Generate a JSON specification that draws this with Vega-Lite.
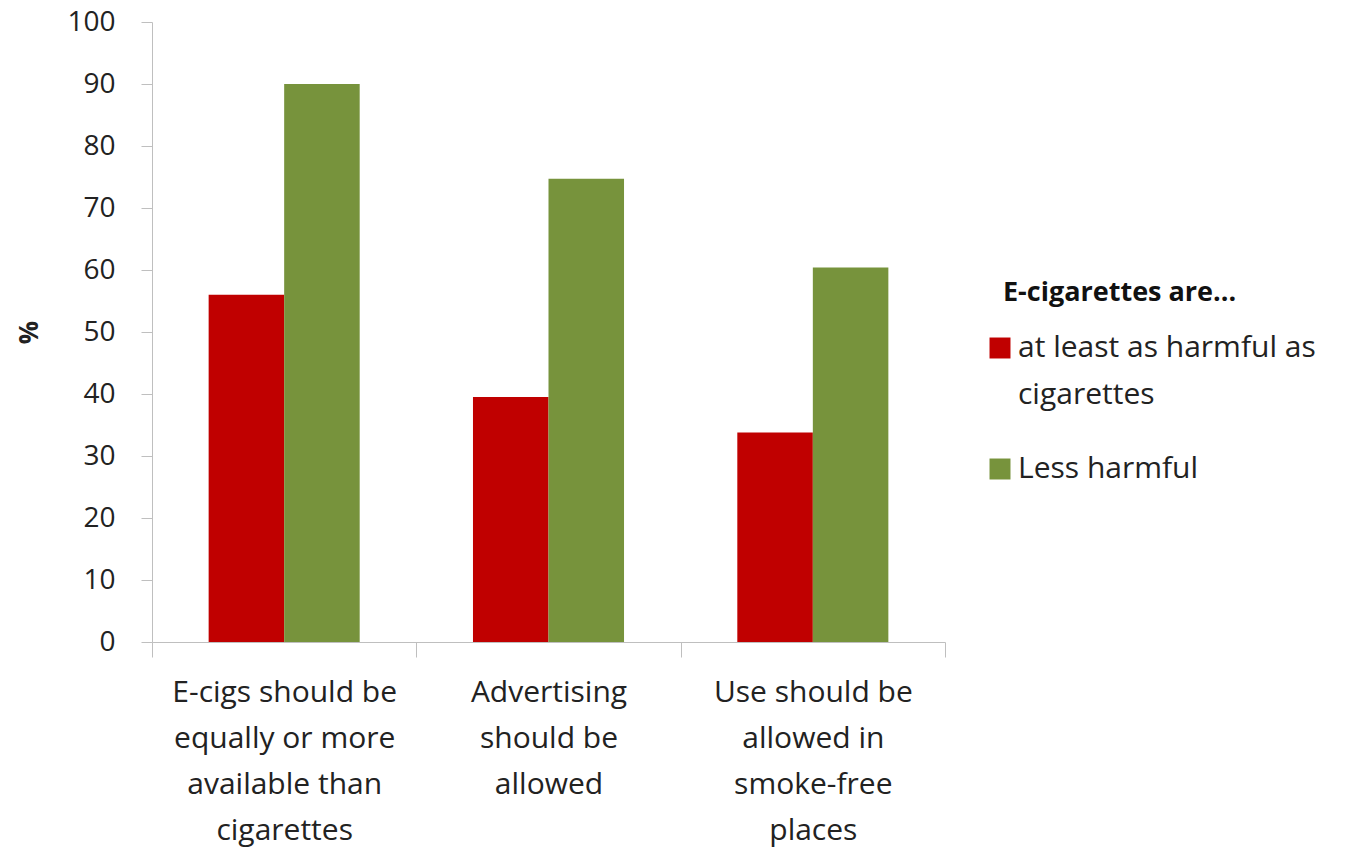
{
  "$schema": "https://vega.github.io/schema/vega-lite/v6.json",
  "autosize": "none",
  "width": 793,
  "height": 620,
  "padding": {"left": 152, "top": 22, "right": 401, "bottom": 206},
  "background": "white",
  "config": {
    "view": {"stroke": null},
    "font": "Open Sans"
  },
  "data": {
    "values": [
      {"statement": "E-cigs should be equally or more available than cigarettes", "belief": "at least as harmful as cigarettes", "pct": 56},
      {"statement": "E-cigs should be equally or more available than cigarettes", "belief": "Less harmful", "pct": 90},
      {"statement": "Advertising should be allowed", "belief": "at least as harmful as cigarettes", "pct": 39.5},
      {"statement": "Advertising should be allowed", "belief": "Less harmful", "pct": 74.7},
      {"statement": "Use should be allowed in smoke-free places", "belief": "at least as harmful as cigarettes", "pct": 33.8},
      {"statement": "Use should be allowed in smoke-free places", "belief": "Less harmful", "pct": 60.4}
    ]
  },
  "mark": {"type": "bar"},
  "encoding": {
    "x": {
      "field": "statement",
      "type": "nominal",
      "sort": null,
      "scale": {"paddingInner": 0, "paddingOuter": 0},
      "axis": {
        "title": null,
        "labelAngle": 0,
        "tickBand": "extent",
        "tickSize": 15,
        "tickColor": "#bfbfbf",
        "domainColor": "#bfbfbf",
        "labelFont": "Open Sans",
        "labelFontSize": 30,
        "labelColor": "#222222",
        "labelPadding": 20,
        "labelLineHeight": 46,
        "labelBaseline": "top",
        "labelLimit": 400,
        "labelExpr": "datum.value == 'E-cigs should be equally or more available than cigarettes' ? ['E-cigs should be', 'equally or more', 'available than', 'cigarettes'] : datum.value == 'Advertising should be allowed' ? ['Advertising', 'should be', 'allowed'] : datum.value == 'Use should be allowed in smoke-free places' ? ['Use should be', 'allowed in', 'smoke-free', 'places'] : ''"
      }
    },
    "xOffset": {
      "field": "belief",
      "type": "nominal",
      "sort": ["at least as harmful as cigarettes", "Less harmful"],
      "scale": {"paddingInner": 0, "paddingOuter": 0.75}
    },
    "y": {
      "field": "pct",
      "type": "quantitative",
      "scale": {"domain": [0, 100], "nice": false},
      "axis": {
        "title": "%",
        "titleFont": "Open Sans",
        "titleFontSize": 26,
        "titleFontWeight": "bold",
        "titleColor": "#222222",
        "titlePadding": 24,
        "values": [0, 10, 20, 30, 40, 50, 60, 70, 80, 90, 100],
        "grid": false,
        "tickSize": 11,
        "tickColor": "#bfbfbf",
        "domainColor": "#bfbfbf",
        "labelFont": "Open Sans",
        "labelFontSize": 28,
        "labelColor": "#222222",
        "labelPadding": 26
      }
    },
    "color": {
      "field": "belief",
      "type": "nominal",
      "sort": ["at least as harmful as cigarettes", "Less harmful"],
      "scale": {"domain": ["at least as harmful as cigarettes", "Less harmful"], "range": ["#C00000", "#77933C"]},
      "legend": {
        "title": "E-cigarettes are...",
        "orient": "none",
        "legendX": 833,
        "legendY": 258,
        "padding": 0,
        "titleFont": "Open Sans",
        "titleFontSize": 27,
        "titleFontWeight": "bold",
        "titleColor": "#111111",
        "titlePadding": 26,
        "titleLimit": 500,
        "symbolType": "square",
        "symbolSize": 440,
        "symbolStrokeWidth": 0,
        "symbolOpacity": 1,
        "labelFont": "Open Sans",
        "labelFontSize": 30,
        "labelColor": "#222222",
        "labelOffset": 3,
        "labelLimit": 500,
        "rowPadding": 44,
        "labelExpr": "datum.label == 'at least as harmful as cigarettes' ? ['at least as harmful as', 'cigarettes'] : datum.label",
        "encode": {
          "labels": {"update": {"lineHeight": {"value": 47}}},
          "title": {"update": {"dx": {"value": 18}}}
        }
      }
    }
  }
}
